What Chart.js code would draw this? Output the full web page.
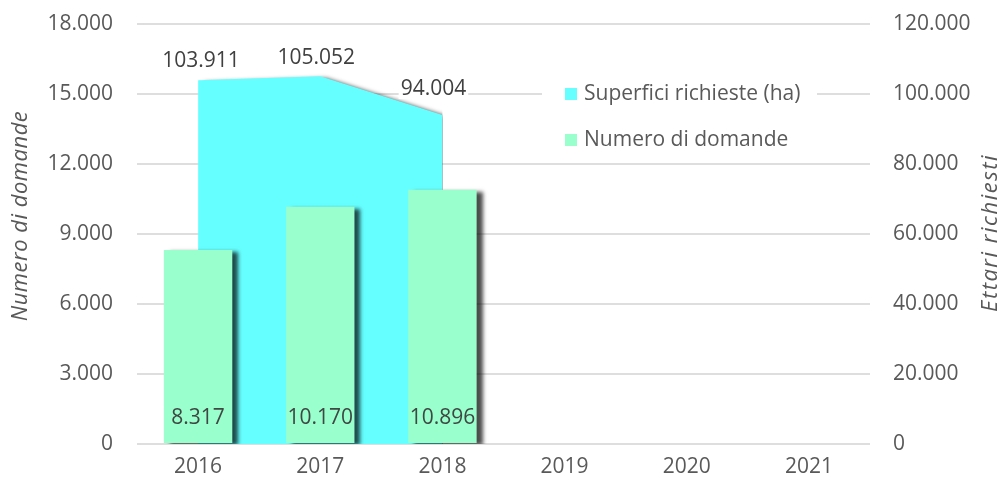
<!DOCTYPE html>
<html>
<head>
<meta charset="utf-8">
<script src="https://cdn.jsdelivr.net/npm/chart.js@4.4.1/dist/chart.umd.min.js"></script>
<style>
  html, body { margin: 0; padding: 0; background: #ffffff; }
  #wrap { width: 1008px; height: 483px; }
</style>
</head>
<body>
<div id="wrap"><canvas id="chart" width="1008" height="483"></canvas></div>
<script>
// Anni della campagna
const years = ['2016', '2017', '2018', '2019', '2020', '2021'];
// Numero di domande presentate (asse sinistro)
const domande = [8317, 10170, 10896, null, null, null];
// Superfici richieste in ettari (asse destro)
const ettari = [103911, 105052, 94004, null, null, null];
// Valori delle tacche dei due assi
const domandeTicks = [0, 3000, 6000, 9000, 12000, 15000, 18000];
const ettariTicks = [0, 20000, 40000, 60000, 80000, 100000, 120000];

const FONT = '"Open Sans"';
const FS = 21;
const GREY = '#595959';
const CYAN = '#66FFFF';
const MINT = '#99FFCC';

// Separatore delle migliaia all'italiana
const fmt = v => String(Math.round(v)).replace(/\B(?=(\d{3})+(?!\d))/g, '.');

const setTicks = list => scale => { scale.ticks = list.map(v => ({ value: v })); };

// Larghezza fissa dell'asse verticale, senza margini extra sopra e sotto
const fixWidth = w => s => { s.width = w; s.paddingTop = 0; s.paddingBottom = 0; };

// Ombre, etichette dei valori, legenda e titoli degli assi
const decor = {
  id: 'decor',
  beforeDatasetsDraw(chart) {
    const ctx = chart.ctx;
    ctx.save();
    ctx.shadowColor = 'rgba(0,0,0,0.7)';
    ctx.shadowBlur = 4;
    ctx.shadowOffsetX = 6;
    ctx.shadowOffsetY = 2;
  },
  afterDatasetsDraw(chart, args, opts) {
    const ctx = chart.ctx;
    ctx.restore();
    ctx.save();
    ctx.font = FS + 'px ' + FONT;
    ctx.textAlign = 'center';
    ctx.textBaseline = 'middle';

    // etichette della superficie
    const areaMeta = chart.getDatasetMeta(0);
    const areaData = chart.data.datasets[0].data;
    areaMeta.data.forEach((pt, i) => {
      const v = areaData[i];
      if (v == null) return;
      const sh = opts.areaShift[i] || [0, -19];
      const txt = fmt(v);
      const x = pt.x + sh[0], y = pt.y + sh[1];
      const w = ctx.measureText(txt).width;
      ctx.fillStyle = '#ffffff';
      ctx.fillRect(x - w / 2 - 2, y - 10, w + 4, 20);
      ctx.fillStyle = '#404040';
      ctx.fillText(txt, x, y);
    });

    // etichette delle barre, alla base
    const barMeta = chart.getDatasetMeta(1);
    const barData = chart.data.datasets[1].data;
    barMeta.data.forEach((bar, i) => {
      const v = barData[i];
      if (v == null) return;
      ctx.fillStyle = '#3f4743';
      ctx.fillText(fmt(v), bar.x, bar.base - 24.5);
    });

    // legenda
    const lg = opts.legend;
    ctx.fillStyle = '#ffffff';
    ctx.fillRect(lg.x, lg.y, lg.w, lg.h);
    ctx.textAlign = 'left';
    chart.data.datasets.forEach((ds, i) => {
      const cy = lg.y + lg.first + i * lg.gap;
      ctx.fillStyle = ds.backgroundColor;
      ctx.fillRect(lg.x + 23, cy - 6, 12, 12);
      ctx.fillStyle = GREY;
      ctx.fillText(ds.label, lg.x + 42, cy);
    });

    // titoli degli assi
    ctx.font = 'italic 22px ' + FONT;
    ctx.fillStyle = GREY;
    ctx.textAlign = 'center';
    opts.titles.forEach(t => {
      ctx.save();
      ctx.letterSpacing = t.spacing;
      ctx.translate(t.x, t.y);
      ctx.rotate(-Math.PI / 2);
      ctx.fillText(t.text, 0, 0);
      ctx.restore();
    });
    ctx.restore();
  }
};

const tickFont = { family: FONT, size: FS };

new Chart(document.getElementById('chart'), {
  data: {
    labels: years,
    datasets: [
      {
        type: 'line',
        label: 'Superfici richieste (ha)',
        data: ettari,
        yAxisID: 'y1',
        fill: 'origin',
        backgroundColor: CYAN,
        borderColor: 'rgba(0,0,0,0)',
        borderWidth: 0,
        pointRadius: 0,
        tension: 0,
        order: 2
      },
      {
        type: 'bar',
        label: 'Numero di domande',
        data: domande,
        yAxisID: 'y',
        backgroundColor: MINT,
        borderWidth: 0,
        barPercentage: 0.56,
        categoryPercentage: 1,
        order: 1
      }
    ]
  },
  options: {
    responsive: false,
    animation: false,
    devicePixelRatio: 1,
    layout: { padding: { top: 24, left: 0, right: 0, bottom: 0 } },
    plugins: {
      legend: { display: false },
      tooltip: { enabled: false },
      decor: {
        areaShift: [[3, -19], [-4, -18], [-9, -26]],
        legend: { x: 542, y: 72, w: 275, h: 86, first: 22, gap: 46 },
        titles: [
          { text: 'Numero di domande', x: 21, y: 216, spacing: '0.5px' },
          { text: 'Ettari richiesti', x: 991, y: 233, spacing: '1.5px' }
        ]
      }
    },
    scales: {
      x: {
        offset: true,
        grid: { display: false, drawTicks: false },
        border: { display: false },
        ticks: { color: GREY, font: tickFont, padding: 10, maxRotation: 0 },
        afterFit: s => { s.height = 39; }
      },
      y: {
        position: 'left',
        min: 0,
        max: 18000,
        afterBuildTicks: setTicks(domandeTicks),
        grid: { color: '#dedede', lineWidth: 2, drawTicks: false },
        border: { display: false },
        ticks: { color: GREY, font: tickFont, padding: 24, callback: v => fmt(v) },
        afterFit: fixWidth(137)
      },
      y1: {
        position: 'right',
        min: 0,
        max: 120000,
        afterBuildTicks: setTicks(ettariTicks),
        grid: { display: false, drawTicks: false },
        border: { display: false },
        ticks: { color: GREY, font: tickFont, padding: 23, callback: v => fmt(v) },
        afterFit: fixWidth(138)
      }
    }
  },
  plugins: [decor]
});
</script>
</body>
</html>
